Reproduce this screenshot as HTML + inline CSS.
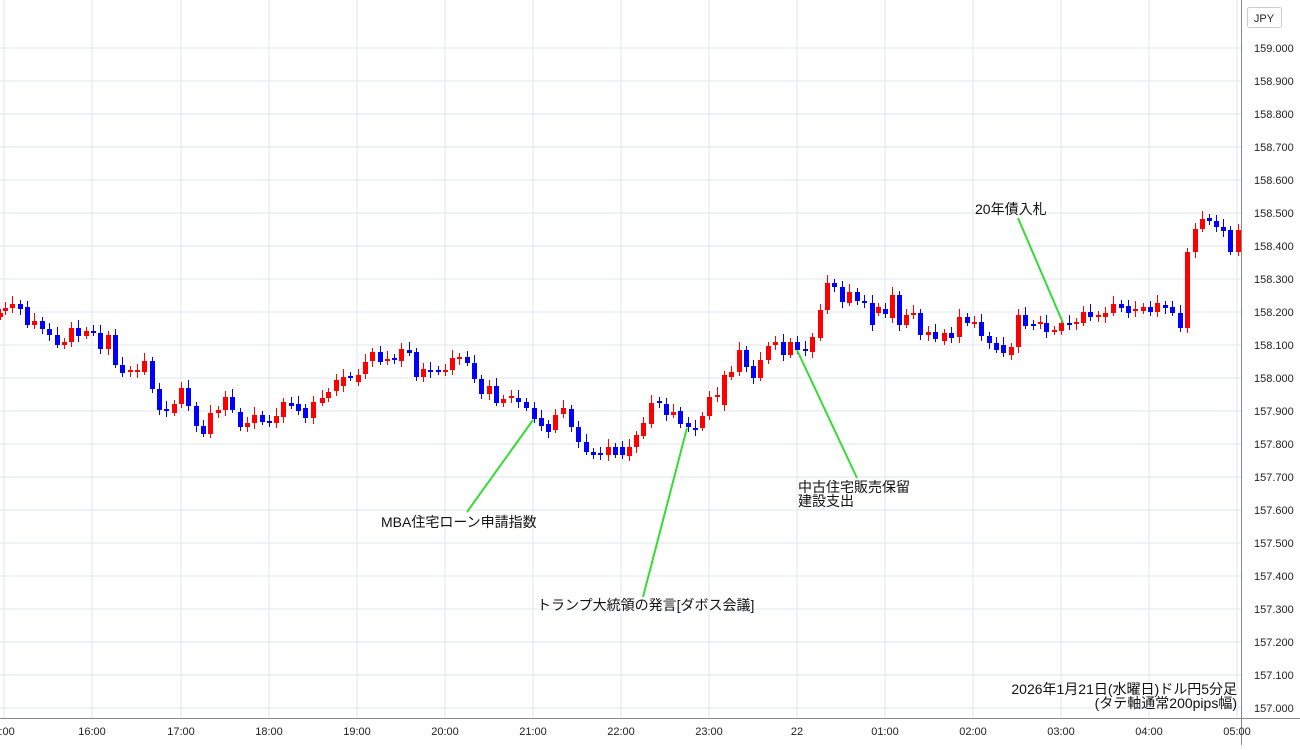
<!DOCTYPE html>
<html><head><meta charset="utf-8">
<style>
html,body{margin:0;padding:0;background:#fff;}
body{width:1300px;height:745px;overflow:hidden;font-family:"Liberation Sans","Noto Sans CJK JP",sans-serif;}
svg text{font-family:"Liberation Sans","Noto Sans CJK JP",sans-serif;}
</style></head><body>
<svg id="c" width="1300" height="745" xmlns="http://www.w3.org/2000/svg"></svg>
<script>
var s='';
for(var k=0;k<=20;k++){var y=48+33*k;s+='<line x1="0" x2="1241" y1="'+y+'" y2="'+y+'" stroke="#dfe7f1" stroke-width="1"/>';}
var hx=[4,92,181,269,357,445,533,621,709,797,885,973,1061,1149,1237];
var hl=['6:00','16:00','17:00','18:00','19:00','20:00','21:00','22:00','23:00','22','01:00','02:00','03:00','04:00','05:00'];
hx.forEach(function(x){s+='<line x1="'+x+'" x2="'+x+'" y1="0" y2="718" stroke="#dfe7f1" stroke-width="1"/>';});
var d=[[0,313,317,'r'],[5,308,311,'r'],[12,304,308,'r'],[20,304,309,'b'],[27,307,325,'b'],[34,321,325,'r'],[42,321,329,'b'],[49,329,335,'b'],[57,335,345,'b'],[64,342,345,'r'],[71,328,342,'r'],[78,328,336,'b'],[86,331,336,'r'],[93,331,332,'b'],[100,333,349,'b'],[108,335,349,'r'],[115,335,365,'b'],[122,365,373,'b'],[130,370,372,'r'],[137,370,372,'r'],[144,361,372,'r'],[152,361,389,'b'],[159,389,410,'b'],[166,409,411,'b'],[174,404,413,'r'],[181,388,404,'r'],[188,388,406,'b'],[196,406,426,'b'],[203,426,434,'b'],[210,413,434,'r'],[218,410,413,'r'],[225,397,410,'r'],[232,397,410,'b'],[240,412,427,'b'],[247,423,427,'r'],[254,415,423,'r'],[262,415,422,'b'],[269,421,423,'b'],[276,416,423,'r'],[283,402,417,'r'],[291,403,406,'b'],[298,404,411,'b'],[305,408,418,'b'],[313,402,418,'r'],
[322,398,403,'r'],[328,392,398,'r'],[336,380,391,'r'],[343,377,386,'r'],[350,376,378,'b'],[358,375,382,'r'],[365,362,374,'r'],[372,352,361,'r'],[380,352,362,'b'],[387,359,361,'r'],[394,358,359,'b'],[401,349,361,'r'],[409,350,353,'b'],[416,352,377,'b'],[423,369,377,'r'],[430,370,372,'b'],[438,370,372,'b'],[445,370,372,'r'],[452,358,370,'r'],[459,357,359,'r'],[467,357,363,'b'],[474,363,379,'b'],[481,379,394,'b'],[489,386,394,'r'],[496,386,403,'b'],[503,399,403,'r'],[511,396,398,'r'],[518,398,402,'b'],[526,402,408,'b'],[534,408,419,'b'],[541,418,426,'b'],[548,424,432,'b'],[555,415,430,'r'],[563,408,414,'r'],[571,409,427,'b'],[578,427,442,'b'],[586,442,452,'b'],[593,452,455,'b'],[600,453,455,'b'],[608,447,455,'r'],[615,447,455,'b'],
[622,447,455,'b'],[629,447,456,'r'],[636,435,447,'r'],[643,423,436,'r'],[651,403,424,'r'],[659,401,403,'b'],[666,404,415,'b'],[673,412,415,'r'],[680,411,424,'b'],[688,423,427,'b'],[695,428,430,'b'],[702,416,428,'r'],[709,397,416,'r'],[717,395,397,'r'],[724,375,405,'r'],[731,372,377,'r'],[739,350,372,'r'],[746,350,367,'b'],[753,366,378,'b'],[760,360,378,'r'],[768,346,360,'r'],[775,342,345,'r'],[783,342,355,'b'],[790,342,355,'r'],[797,342,350,'b'],[805,349,351,'b'],[812,337,352,'r'],[820,310,338,'r'],[827,283,310,'r'],[834,283,287,'b'],[842,287,302,'b'],[849,292,303,'r'],[857,292,301,'b'],[864,301,303,'b'],[872,303,325,'b'],[878,307,313,'r'],[885,309,314,'b'],[892,295,318,'r'],[899,295,325,'b'],[906,315,325,'r'],[913,313,315,'r'],[920,313,335,'b'],[928,332,335,'r'],[935,332,339,'b'],
[944,333,341,'r'],[951,333,338,'b'],[959,317,337,'r'],[967,317,323,'b'],[974,322,324,'r'],[981,322,336,'b'],[989,336,343,'b'],[996,343,350,'b'],[1003,345,353,'b'],[1011,347,355,'r'],[1018,315,347,'r'],[1025,315,326,'b'],[1033,324,326,'b'],[1040,322,324,'r'],[1046,323,332,'b'],[1054,330,332,'r'],[1061,323,331,'r'],[1069,323,325,'b'],[1076,322,324,'r'],[1083,312,323,'r'],[1090,312,317,'b'],[1098,315,317,'r'],[1105,313,317,'r'],[1113,304,313,'r'],[1121,304,308,'b'],[1128,306,313,'b'],[1135,309,311,'r'],[1143,307,311,'r'],[1150,307,312,'b'],[1157,303,312,'r'],[1165,305,308,'b'],[1172,307,313,'b'],[1180,313,328,'b'],[1187,252,328,'r'],[1195,229,252,'r'],[1202,219,229,'r'],[1209,218,221,'b'],[1216,221,227,'b'],[1223,227,231,'b'],[1230,230,252,'b'],[1238,230,252,'r']];
d.forEach(function(c,i){var col=c[3]=='r'?'#ff0000':'#0000ff';var wt=c[1]-4-(i%3)*2,wb=c[2]+3+(i%4);
s+='<line x1="'+(c[0]+0.5)+'" x2="'+(c[0]+0.5)+'" y1="'+wt+'" y2="'+wb+'" stroke="'+col+'" stroke-width="1"/>';
s+='<rect x="'+(c[0]-2)+'" y="'+c[1]+'" width="5" height="'+Math.max(2,c[2]-c[1])+'" fill="'+col+'"/>';});
var g='#33dd33';
s+='<line x1="533" y1="420" x2="467" y2="512" stroke="'+g+'" stroke-width="2"/>';
s+='<line x1="687" y1="428" x2="643" y2="597" stroke="'+g+'" stroke-width="2"/>';
s+='<line x1="797" y1="350" x2="857" y2="478" stroke="'+g+'" stroke-width="2"/>';
s+='<line x1="1018" y1="218" x2="1063" y2="323" stroke="'+g+'" stroke-width="2"/>';
var f='font-size="14" fill="#111"';
s+='<text x="381" y="527" '+f+'>MBA住宅ローン申請指数</text>';
s+='<text x="537" y="610" '+f+'>トランプ大統領の発言[ダボス会議]</text>';
s+='<text x="798" y="492" '+f+'>中古住宅販売保留</text>';
s+='<text x="798" y="506" '+f+'>建設支出</text>';
s+='<text x="975" y="214" '+f+'>20年債入札</text>';
s+='<text x="1237" y="694" '+f+' text-anchor="end">2026年1月21日(水曜日)ドル円5分足</text>';
s+='<text x="1237" y="708" '+f+' text-anchor="end">(タテ軸通常200pips幅)</text>';
s+='<rect x="1241" y="0" width="59" height="745" fill="#fff"/>';
s+='<rect x="0" y="718" width="1300" height="27" fill="#fff"/>';
s+='<line x1="1241.5" x2="1241.5" y1="0" y2="745" stroke="#888"/>';
s+='<line x1="0" x2="1300" y1="718.5" y2="718.5" stroke="#888"/>';
for(var k=0;k<=20;k++){var y=48+33*k;var p=(159-k*0.1).toFixed(3);s+='<text x="1254" y="'+(y+4)+'" font-size="11" fill="#222">'+p+'</text>';}
hx.forEach(function(x,i){s+='<text x="'+x+'" y="735" font-size="11" fill="#222" text-anchor="middle">'+hl[i]+'</text>';});
s+='<rect x="1247.5" y="7.5" width="34" height="20" fill="#fff" stroke="#ccc" rx="2"/>';
s+='<text x="1264" y="22" font-size="11" fill="#222" text-anchor="middle">JPY</text>';
document.getElementById('c').innerHTML=s;
</script>
</body></html>
